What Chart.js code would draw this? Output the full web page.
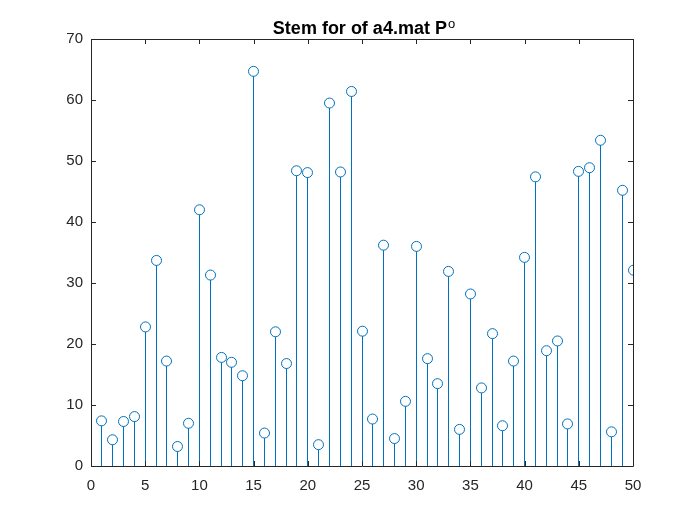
<!DOCTYPE html>
<html>
<head>
<meta charset="utf-8">
<script src="https://cdn.jsdelivr.net/npm/chart.js@4"></script>
<style>
  html, body { margin: 0; padding: 0; background: #fff; }
  #wrap { width: 700px; height: 525px; }
</style>
</head>
<body>
<div id="wrap"><canvas id="stemChart"></canvas></div>
<script>
// sample index and values
const sampleIdx = [];
for (let i = 1; i <= 50; i++) sampleIdx.push(i);
const sampleVals = [
    7.4, 4.3, 7.3, 8.1, 22.8, 33.7, 17.2, 3.2, 7.0, 42.0,
    31.3, 17.8, 17.0, 14.8, 64.7, 5.4, 22.0, 16.8, 48.4, 48.1,
    3.5, 59.5, 48.2, 61.4, 22.1, 7.7, 36.2, 4.5, 10.6, 36.0,
    17.6, 13.5, 31.9, 6.0, 28.2, 12.8, 21.7, 6.6, 17.2, 34.2,
    47.4, 18.9, 20.5, 6.9, 48.3, 48.9, 53.4, 5.6, 45.2, 32.1
];
const xTicks = [0, 5, 10, 15, 20, 25, 30, 35, 40, 45, 50];
const yTicks = [0, 10, 20, 30, 40, 50, 60, 70];
const titleMain = 'Stem for of a4.mat P';
const titleSup = 'o';

const stemColor = '#0072BD';
const axisColor = '#262626';
const fontFam = 'Liberation Sans, Arial, sans-serif';

const points = sampleIdx.map((x, i) => ({ x: x, y: sampleVals[i] }));

// snap stems and markers to whole pixels so the 1px stems stay crisp
const snapStems = {
    id: 'snapStems',
    beforeDatasetsDraw(chart) {
        chart.data.datasets.forEach((ds, i) => {
            chart.getDatasetMeta(i).data.forEach(el => {
                el.x = Math.round(el.x - 0.5) + 0.5;
            });
        });
    }
};

// MATLAB style box with inward ticks on all four sides, plus the title
const boxAxes = {
    id: 'boxAxes',
    afterDraw(chart) {
        const { ctx, chartArea: a, scales } = chart;
        const len = 5;
        ctx.save();
        ctx.strokeStyle = axisColor;
        ctx.lineWidth = 1;
        ctx.beginPath();
        ctx.rect(Math.round(a.left) + 0.5, Math.round(a.top) + 0.5,
                 Math.round(a.right - a.left), Math.round(a.bottom - a.top));
        xTicks.forEach(t => {
            const px = Math.round(scales.x.getPixelForValue(t)) + 0.5;
            ctx.moveTo(px, a.bottom); ctx.lineTo(px, a.bottom - len);
            ctx.moveTo(px, a.top); ctx.lineTo(px, a.top + len);
        });
        yTicks.forEach(t => {
            const py = Math.round(scales.y.getPixelForValue(t)) + 0.5;
            ctx.moveTo(a.left, py); ctx.lineTo(a.left + len, py);
            ctx.moveTo(a.right, py); ctx.lineTo(a.right - len, py);
        });
        ctx.stroke();

        // title centred over the axes, with superscript o
        const cx = (a.left + a.right) / 2 + 2;
        ctx.fillStyle = '#000';
        ctx.textBaseline = 'alphabetic';
        ctx.textAlign = 'left';
        ctx.font = 'bold 18px ' + fontFam;
        const w1 = ctx.measureText(titleMain).width;
        ctx.font = '13px ' + fontFam;
        const w2 = ctx.measureText(titleSup).width;
        const x0 = cx - (w1 + w2 + 1) / 2;
        ctx.font = 'bold 18px ' + fontFam;
        ctx.fillText(titleMain, x0, 33.5);
        ctx.font = '13px ' + fontFam;
        ctx.fillText(titleSup, x0 + w1 + 1, 28);
        ctx.restore();
    }
};

new Chart(document.getElementById('stemChart'), {
    type: 'scatter',
    data: {
        datasets: [{
            label: 'markers',
            data: points,
            pointStyle: 'circle',
            pointRadius: 5,
            pointHoverRadius: 5,
            pointBorderWidth: 1,
            pointBorderColor: stemColor,
            pointBackgroundColor: '#ffffff',
            showLine: false,
            order: 0
        }, {
            type: 'bar',
            label: 'stems',
            data: points,
            backgroundColor: stemColor,
            barThickness: 1,
            inflateAmount: 0,
            borderWidth: 0,
            order: 1
        }]
    },
    options: {
        responsive: true,
        maintainAspectRatio: false,
        animation: false,
        layout: { padding: { left: 0, right: 67, top: 39, bottom: 0 } },
        plugins: {
            legend: { display: false },
            tooltip: { enabled: false },
            title: { display: false }
        },
        scales: {
            x: {
                type: 'linear',
                min: 0, max: 50,
                offset: false,
                afterBuildTicks: s => { s.ticks = xTicks.map(v => ({ value: v })); },
                afterFit: s => { s.height = 59; },
                grid: { display: false, drawTicks: false, offset: false },
                border: { display: false },
                ticks: {
                    color: axisColor,
                    padding: 11,
                    maxRotation: 0,
                    font: { family: fontFam, size: 15 }
                }
            },
            y: {
                type: 'linear',
                min: 0, max: 70,
                afterBuildTicks: s => { s.ticks = yTicks.map(v => ({ value: v })); },
                afterFit: s => { s.width = 91; },
                grid: { display: false, drawTicks: false },
                border: { display: false },
                ticks: {
                    color: axisColor,
                    padding: 8,
                    font: { family: fontFam, size: 15 }
                }
            }
        }
    },
    plugins: [snapStems, boxAxes]
});
</script>
</body>
</html>
